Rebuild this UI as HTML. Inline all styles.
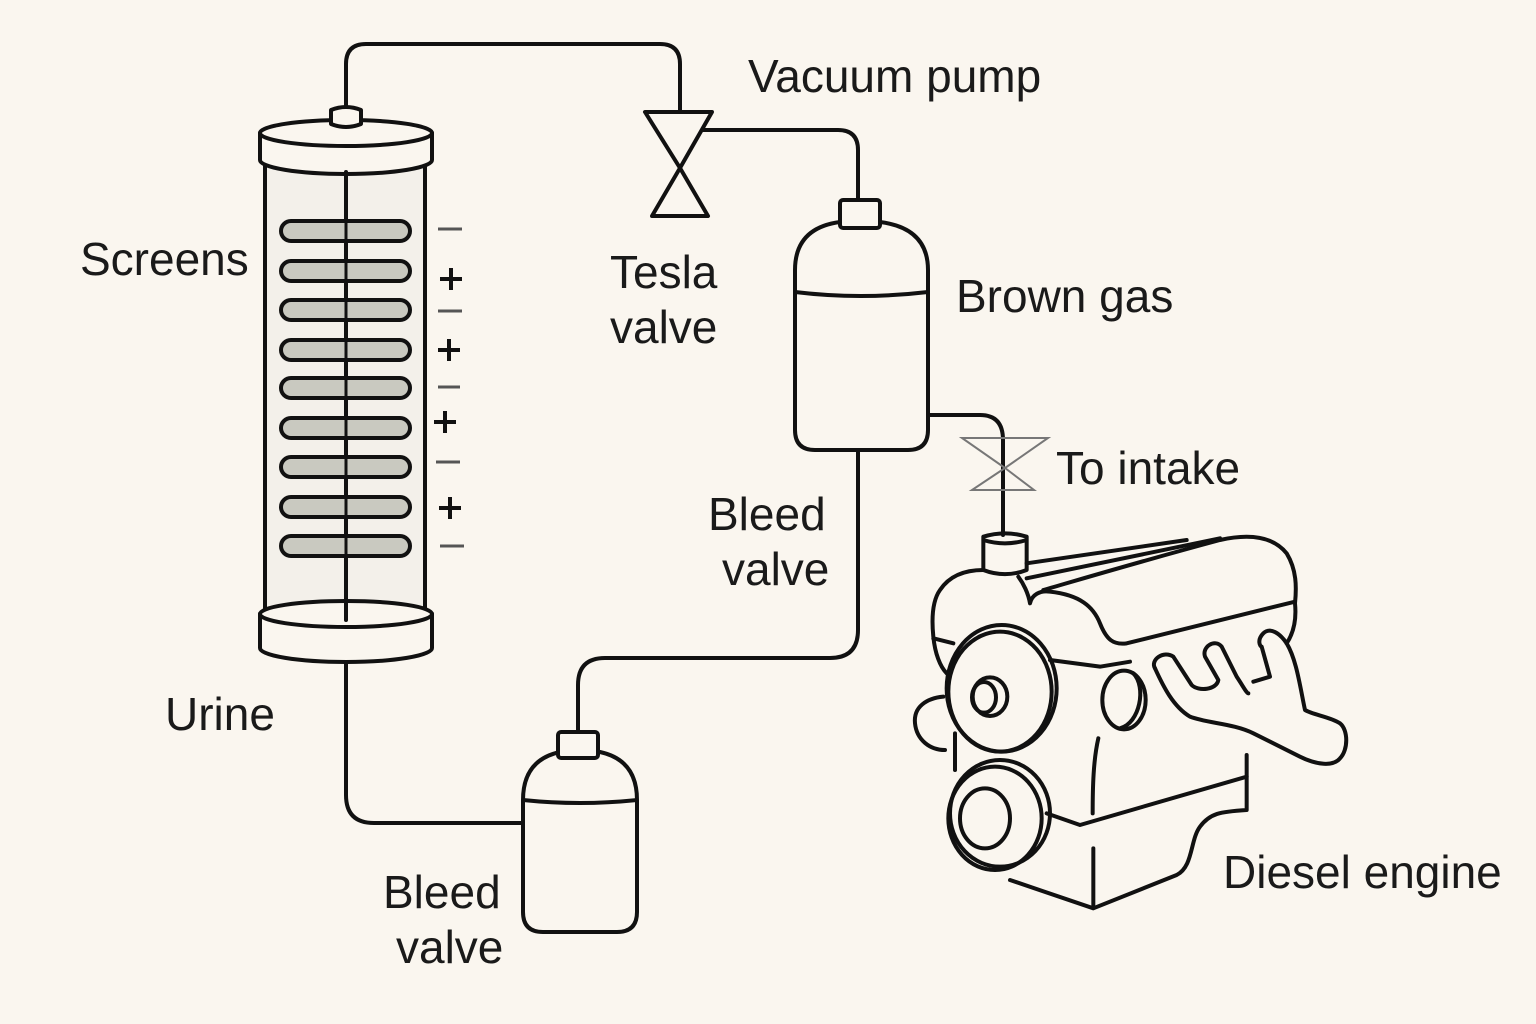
<!DOCTYPE html>
<html><head><meta charset="utf-8"><style>
html,body{margin:0;padding:0;background:#faf6ef;}
svg{display:block}
text{font-family:"Liberation Sans",sans-serif;font-size:46px;fill:#1a1a1a}
</style></head><body>
<svg width="1536" height="1024" viewBox="0 0 1536 1024" xmlns="http://www.w3.org/2000/svg">
<rect width="1536" height="1024" fill="#faf6ef"/>
<g fill="none" stroke="#111" stroke-width="4" stroke-linecap="round" stroke-linejoin="round">
<path d="M346,105 L346,64 Q346,44 366,44 L660,44 Q680,44 680,64 L680,112"/>
<path d="M700,130 L838,130 Q858,130 858,150 L858,200"/>
<path d="M928,415 L980,415 Q1003,415 1003,440 L1003,535"/>
<path d="M858,450 L858,630 Q858,658 830,658 L605,658 Q578,658 578,685 L578,732"/>
<path d="M346,660 L346,795 Q346,823 374,823 L523,823"/>
<rect x="265" y="160" width="160" height="455" fill="#f3f0ea"/>
<path d="M260,133 L260,160 A86,14 0 0 0 432,160 L432,133" fill="#faf6ef"/>
<ellipse cx="346" cy="133" rx="86" ry="13" fill="#faf6ef"/>
<path d="M331,110 L331,124 Q346,130 361,124 L361,110 Q346,104 331,110Z" fill="#faf6ef"/>
<line x1="346" y1="172" x2="346" y2="620"/>
<path d="M260,614 L260,648 A86,14 0 0 0 432,648 L432,614" fill="#faf6ef"/>
<ellipse cx="346" cy="614" rx="86" ry="13" fill="#faf6ef"/>
<line x1="346" y1="600" x2="346" y2="620"/>
</g>
<g stroke="#111" stroke-width="4" fill="#c9c9c0">
<rect x="281" y="221" width="129" height="20" rx="10"/>
<rect x="281" y="261" width="129" height="20" rx="10"/>
<rect x="281" y="300" width="129" height="20" rx="10"/>
<rect x="281" y="340" width="129" height="20" rx="10"/>
<rect x="281" y="378" width="129" height="20" rx="10"/>
<rect x="281" y="418" width="129" height="20" rx="10"/>
<rect x="281" y="457" width="129" height="20" rx="10"/>
<rect x="281" y="497" width="129" height="20" rx="10"/>
<rect x="281" y="536" width="129" height="20" rx="10"/>
</g>
<g stroke="#111" stroke-width="3">
<line x1="346" y1="221" x2="346" y2="556"/>
</g>
<g stroke="#555" stroke-width="3">
<line x1="438" y1="229" x2="462" y2="229"/><line x1="438" y1="311" x2="462" y2="311"/>
<line x1="438" y1="387" x2="460" y2="387"/><line x1="436" y1="462" x2="460" y2="462"/>
<line x1="440" y1="546" x2="464" y2="546"/>
</g>
<g stroke="#111" stroke-width="4">
<path d="M440,279 h22 M451,268 v22"/><path d="M438,350 h22 M449,339 v22"/>
<path d="M434,422 h22 M445,411 v22"/><path d="M439,508 h22 M450,497 v22"/>
</g>
<path d="M645,112 L712,112 L680,168 Z M680,168 L708,216 L652,216 Z" fill="#faf6ef" stroke="#111" stroke-width="4" stroke-linejoin="round"/>
<path d="M962,438 L1048,438 L1005,468 Z M1005,468 L1034,490 L972,490 Z" fill="none" stroke="#777" stroke-width="2"/>
<g fill="#faf6ef" stroke="#111" stroke-width="4" stroke-linejoin="round">
<path d="M795,270 Q795,228 840,222 L880,222 Q928,228 928,270 L928,430 Q928,450 908,450 L815,450 Q795,450 795,430 Z"/>
<path d="M795,292 Q860,300 928,292" fill="none"/>
<rect x="840" y="200" width="40" height="28" rx="3"/>
<path d="M523,800 Q523,760 560,752 L600,752 Q637,760 637,800 L637,912 Q637,932 617,932 L543,932 Q523,932 523,912 Z"/>
<path d="M523,800 Q580,806 637,800" fill="none"/>
<rect x="558" y="732" width="40" height="26" rx="3"/>
</g>
<g transform="translate(900,520) scale(0.33333)" fill="none" stroke="#111" stroke-width="12" stroke-linecap="round" stroke-linejoin="round">
<path d="M250,150 C200,150 150,165 120,210 C95,245 95,300 100,350 C105,400 120,440 140,460"/>
<path d="M250,50 Q315,30 380,50 L380,150 Q315,175 250,150 Z M250,60 Q315,80 380,60"/>
<path d="M380,130 L860,60 M380,175 L960,55"/>
<path d="M355,170 C370,190 385,220 390,250 C395,225 420,210 450,215 C540,225 580,260 600,310 C620,360 640,375 680,370 L1185,245"/>
<path d="M430,210 C500,190 700,130 960,60 C1050,40 1120,50 1160,100 C1190,150 1190,200 1185,250 C1190,300 1180,340 1160,370"/>
<path d="M100,355 L160,370"/>
<ellipse cx="305" cy="505" rx="165" ry="190"/>
<ellipse cx="300" cy="515" rx="155" ry="180"/>
<ellipse cx="270" cy="530" rx="52" ry="58"/>
<ellipse cx="252" cy="532" rx="36" ry="46"/>
<ellipse cx="300" cy="880" rx="150" ry="160"/>
<ellipse cx="285" cy="895" rx="140" ry="155"/>
<ellipse cx="255" cy="895" rx="75" ry="90"/>
<path d="M130,530 C80,535 40,560 45,610 C50,660 90,690 135,690"/>
<path d="M165,640 L165,750"/>
<path d="M450,420 L600,440 L690,425"/>
<ellipse cx="672" cy="540" rx="65" ry="88"/>
<path d="M660,625 C720,610 740,500 700,460"/>
<path d="M440,880 L540,915 L1040,770 L1040,705"/>
<path d="M595,655 C580,720 578,800 578,880"/>
<path d="M580,985 L580,1160"/>
<path d="M330,1080 L580,1165 L830,1065 C880,1040 870,960 900,920 C930,880 960,875 1040,870 L1040,770"/>
<path d="M765,445 C750,420 790,390 820,410 L875,495 C895,515 950,510 955,480 L915,410 C905,380 945,355 965,380 L1010,470 C1030,500 1040,520 1045,520"/>
<path d="M765,445 C790,500 820,560 870,590 C920,610 1000,610 1060,640 C1120,670 1160,690 1200,710 C1250,735 1300,740 1320,715 C1345,690 1345,630 1320,610 C1290,590 1240,585 1215,570 C1200,500 1190,420 1160,370 C1140,340 1110,320 1090,340 C1070,360 1080,380 1085,380 L1110,470 L1060,485"/>
</g>
<text x="748" y="92">Vacuum pump</text>
<text x="80" y="275">Screens</text>
<text x="610" y="288">Tesla</text>
<text x="610" y="343">valve</text>
<text x="956" y="312">Brown gas</text>
<text x="1056" y="484">To intake</text>
<text x="708" y="530">Bleed</text>
<text x="722" y="585">valve</text>
<text x="165" y="730">Urine</text>
<text x="383" y="908">Bleed</text>
<text x="396" y="963">valve</text>
<text x="1223" y="888">Diesel engine</text>
</svg>
</body></html>
